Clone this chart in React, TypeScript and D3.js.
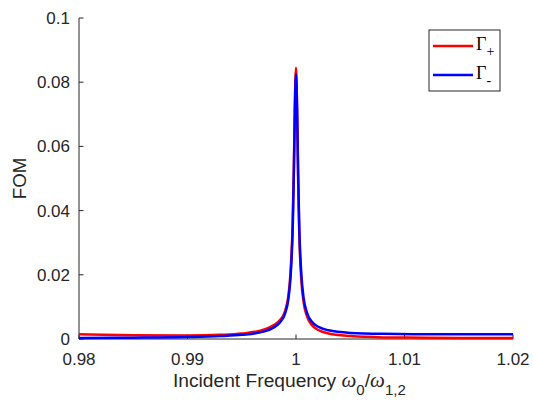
import React from "react";
import * as d3 from "d3";

const xTicks = [0.98, 0.99, 1, 1.01, 1.02];
const xTickLabels = ["0.98", "0.99", "1", "1.01", "1.02"];
const yTicks = [0, 0.02, 0.04, 0.06, 0.08, 0.1];
const yTickLabels = ["0", "0.02", "0.04", "0.06", "0.08", "0.1"];

const freqPlus = [0.98, 0.985, 0.99, 0.993, 0.995, 0.997, 0.998, 0.9985, 0.999, 0.9993, 0.9995, 0.9997, 0.9998, 0.9999, 1.0, 1.0001, 1.0002, 1.0003, 1.0005, 1.0007, 1.001, 1.0015, 1.002, 1.003, 1.005, 1.008, 1.012, 1.016, 1.02];
const fomPlus = [0.0015, 0.0012, 0.0011, 0.0013, 0.0017, 0.0029, 0.0044, 0.0058, 0.0088, 0.0135, 0.021, 0.037, 0.053, 0.074, 0.0845, 0.071, 0.049, 0.033, 0.018, 0.0115, 0.0072, 0.0042, 0.0029, 0.0017, 0.0009, 0.0005, 0.0004, 0.0003, 0.0003];

const freqMinus = [0.98, 0.985, 0.99, 0.993, 0.995, 0.997, 0.998, 0.9985, 0.999, 0.9993, 0.9995, 0.9997, 0.9998, 0.9999, 1.0, 1.0001, 1.0002, 1.0003, 1.0005, 1.0007, 1.001, 1.0015, 1.002, 1.003, 1.005, 1.008, 1.012, 1.016, 1.02];
const fomMinus = [0.0003, 0.0004, 0.0006, 0.0009, 0.0013, 0.0023, 0.0037, 0.0051, 0.008, 0.0125, 0.0195, 0.035, 0.051, 0.072, 0.0825, 0.072, 0.051, 0.035, 0.0198, 0.0128, 0.0083, 0.0052, 0.0039, 0.0027, 0.0019, 0.0016, 0.0015, 0.0015, 0.0015];

const W = 533;
const H = 402;
const m = { left: 79, right: 513, top: 18, bottom: 339 };
const axisColor = "#262626";
const sans = "'Liberation Sans', Arial, Helvetica, sans-serif";
const serif = "'Liberation Serif', 'Times New Roman', serif";

export default function App() {
  const x = d3.scaleLinear().domain([0.98, 1.02]).range([m.left, m.right]);
  const y = d3.scaleLinear().domain([0, 0.1]).range([m.bottom, m.top]);
  const line = d3
    .line<[number, number]>()
    .x((d) => x(d[0]))
    .y((d) => y(d[1]))
    .curve(d3.curveMonotoneX);
  const plus = freqPlus.map((f, i) => [f, fomPlus[i]] as [number, number]);
  const minus = freqMinus.map((f, i) => [f, fomMinus[i]] as [number, number]);

  const lg = { x: 429, y: 30, w: 71, h: 61 };

  return (
    <svg
      width={W}
      height={H}
      style={{ position: "absolute", left: 0, top: 0, background: "#fff" }}
    >
      <rect x={0} y={0} width={W} height={H} fill="#fff" />
      {/* axes */}
      <line x1={m.left} x2={m.left} y1={m.top} y2={m.bottom} stroke={axisColor} strokeWidth={1} />
      <line x1={m.left} x2={m.right} y1={m.bottom} y2={m.bottom} stroke={axisColor} strokeWidth={1} />
      {xTicks.map((t, i) => (
        <g key={"xt" + i}>
          <line x1={x(t)} x2={x(t)} y1={m.bottom} y2={m.bottom - 4.5} stroke={axisColor} />
          <text
            x={x(t)}
            y={365}
            textAnchor="middle"
            fontFamily={sans}
            fontSize={17}
            fill={axisColor}
          >
            {xTickLabels[i]}
          </text>
        </g>
      ))}
      {yTicks.map((t, i) => (
        <g key={"yt" + i}>
          <line x1={m.left} x2={m.left + 4.5} y1={y(t)} y2={y(t)} stroke={axisColor} />
          <text
            x={70}
            y={y(t) + 6}
            textAnchor="end"
            fontFamily={sans}
            fontSize={17}
            fill={axisColor}
          >
            {yTickLabels[i]}
          </text>
        </g>
      ))}
      <text
        transform={`translate(26,${(m.top + m.bottom) / 2}) rotate(-90)`}
        textAnchor="middle"
        fontFamily={sans}
        fontSize={18.7}
        fill={axisColor}
      >
        FOM
      </text>
      <text x={173} y={387} textAnchor="start" fontFamily={sans} fontSize={19.2} fill={axisColor}>
        Incident Frequency{" "}
        <tspan fontFamily={serif} fontStyle="italic" fontSize={21}>ω</tspan>
        <tspan fontSize={15} dy={8}>0</tspan>
        <tspan dy={-8}>/</tspan>
        <tspan fontFamily={serif} fontStyle="italic" fontSize={21}>ω</tspan>
        <tspan fontSize={15} dy={8}>1,2</tspan>
      </text>

      {/* data */}
      <path d={line(plus) || ""} fill="none" stroke="#ff0000" strokeWidth={2.5} strokeLinejoin="round" />
      <path d={line(minus) || ""} fill="none" stroke="#0000ff" strokeWidth={2.5} strokeLinejoin="round" />

      {/* legend */}
      <rect x={lg.x} y={lg.y} width={lg.w} height={lg.h} fill="#fff" stroke={axisColor} strokeWidth={1} />
      <line x1={433} x2={473} y1={46} y2={46} stroke="#ff0000" strokeWidth={2.5} />
      <text x={476} y={50} fontFamily={serif} fontSize={18} fill="#000">
        Γ<tspan fontSize={14} dy={6}>+</tspan>
      </text>
      <line x1={433} x2={473} y1={75} y2={75} stroke="#0000ff" strokeWidth={2.5} />
      <text x={476} y={79} fontFamily={serif} fontSize={18} fill="#000">
        Γ<tspan fontSize={14} dy={6}>-</tspan>
      </text>
    </svg>
  );
}
